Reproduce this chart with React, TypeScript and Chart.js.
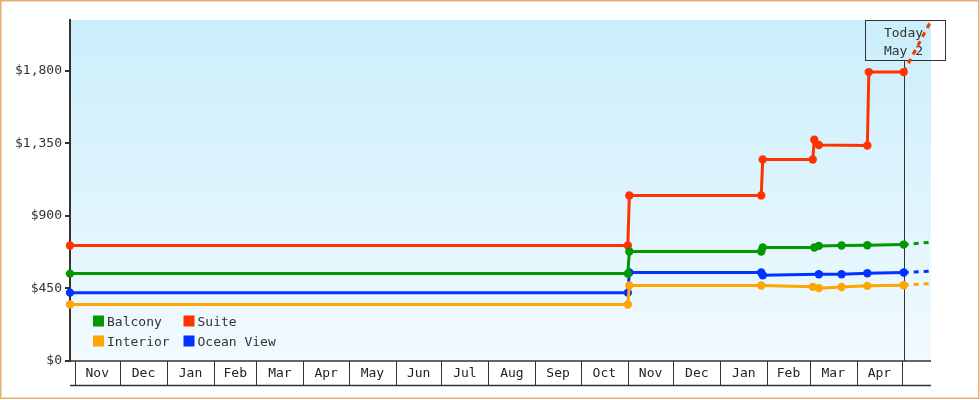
import React, { useEffect, useRef } from 'react';
import { Chart, registerables } from 'chart.js';

Chart.register(...registerables);

// ---- data ----
const dates = [
  '2008-10-29', '2009-11-01', '2009-11-02', '2010-01-28', '2010-01-29',
  '2010-03-03', '2010-03-04', '2010-03-07', '2010-03-22', '2010-04-08',
  '2010-04-09', '2010-05-02', '2010-05-20',
];
const balcony = [542, 542, 679, 679, 704, null, 704, 714, 716, 718, null, 722, 737];
const suite = [716, 716, 1027, 1027, 1250, 1250, 1372, 1340, null, 1337, 1792, 1792, 2110];
const interior = [350, 350, 468, 468, null, 460, null, 452, 459, 466, null, 470, 481];
const oceanView = [424, 424, 549, 549, 532, null, null, 538, 538, 544, null, 549, 557];

const seriesNames = ['Balcony', 'Suite', 'Interior', 'Ocean View'];
const seriesColors = ['#009900', '#ff3300', '#ffa500', '#0033ff'];

const yTicks = [0, 450, 900, 1350, 1800];
const yMax = 2115;

const monthStarts = [
  '2008-11-01', '2008-12-01', '2009-01-01', '2009-02-01', '2009-03-01', '2009-04-01',
  '2009-05-01', '2009-06-01', '2009-07-01', '2009-08-01', '2009-09-01', '2009-10-01',
  '2009-11-01', '2009-12-01', '2010-01-01', '2010-02-01', '2010-03-01', '2010-04-01',
  '2010-05-01', '2010-06-01',
];
const monthLabels = [
  'Nov', 'Dec', 'Jan', 'Feb', 'Mar', 'Apr', 'May', 'Jun', 'Jul', 'Aug', 'Sep', 'Oct',
  'Nov', 'Dec', 'Jan', 'Feb', 'Mar', 'Apr', 'May',
];
const todayDate = '2010-05-02';
const todayLabel = ['Today', 'May 2'];

// ---- helpers ----
const EPOCH = Date.UTC(2008, 10, 1);
const dayIdx = (s: string) => {
  const [y, m, d] = s.split('-').map(Number);
  return (Date.UTC(y, m - 1, d) - EPOCH) / 86400000;
};
const FONT = '13px "DejaVu Sans Mono", monospace';

const decor = {
  id: 'decor',
  beforeDraw(chart: any) {
    const { ctx, chartArea: a } = chart;
    ctx.save();
    const g = ctx.createLinearGradient(0, a.top, 0, a.bottom);
    g.addColorStop(0, '#caeefb');
    g.addColorStop(1, '#f2faff');
    ctx.fillStyle = g;
    ctx.fillRect(a.left, a.top, a.right - a.left, a.bottom - a.top);
    ctx.restore();
  },
  beforeDatasetsDraw(chart: any) {
    const { ctx, chartArea: a } = chart;
    const xs = chart.scales.x;
    ctx.save();
    // month row
    ctx.strokeStyle = '#333';
    ctx.lineWidth = 1.5;
    ctx.beginPath();
    ctx.moveTo(a.left, a.bottom);
    ctx.lineTo(a.right, a.bottom);
    ctx.moveTo(a.left, a.bottom + 24.5);
    ctx.lineTo(a.right, a.bottom + 24.5);
    ctx.stroke();
    ctx.lineWidth = 1;
    ctx.font = FONT;
    ctx.fillStyle = '#222';
    ctx.textAlign = 'center';
    ctx.textBaseline = 'middle';
    const minD = xs.min, maxD = xs.max;
    for (let i = 0; i < monthStarts.length; i++) {
      const d0 = dayIdx(monthStarts[i]);
      if (d0 >= minD && d0 <= maxD) {
        const px = Math.round(xs.getPixelForValue(d0)) + 0.5;
        ctx.beginPath();
        ctx.moveTo(px, a.bottom);
        ctx.lineTo(px, a.bottom + 24.5);
        ctx.stroke();
      }
      if (i + 1 < monthStarts.length && i < monthLabels.length) {
        const d1 = dayIdx(monthStarts[i + 1]);
        if (d0 >= minD && d1 <= maxD) {
          const mid = (xs.getPixelForValue(d0) + xs.getPixelForValue(d1)) / 2;
          ctx.fillText(monthLabels[i], mid, a.bottom + 13);
        }
      }
    }
    // today marker
    const tx = Math.round(xs.getPixelForValue(dayIdx(todayDate))) + 0.5;
    const bw = 80, bh = 40;
    const bx = Math.round(tx - bw / 2) + 0.5;
    const by = a.top + 0.5;
    ctx.strokeStyle = '#333';
    ctx.lineWidth = 1;
    ctx.strokeRect(bx, by, bw, bh);
    ctx.beginPath();
    ctx.moveTo(tx, by + bh);
    ctx.lineTo(tx, a.bottom);
    ctx.stroke();
    ctx.fillStyle = '#333';
    ctx.textBaseline = 'alphabetic';
    ctx.fillText(todayLabel[0], tx - 1, a.top + 16.5);
    ctx.fillText(todayLabel[1], tx - 1, a.top + 35);
    ctx.restore();
  },
  afterDraw(chart: any) {
    const { ctx } = chart;
    ctx.save();
    // legend
    ctx.font = FONT;
    ctx.textAlign = 'left';
    ctx.textBaseline = 'alphabetic';
    chart.data.datasets.forEach((ds: any, i: number) => {
      const col = i % 2, row = Math.floor(i / 2);
      const x = 93 + col * 90.5;
      const y = 315.5 + row * 20;
      ctx.fillStyle = ds.borderColor;
      ctx.fillRect(x, y, 11, 11);
      ctx.fillStyle = '#333';
      ctx.fillText(ds.label, x + 14, y + 10.3);
    });
    // outer border
    ctx.strokeStyle = '#e8ad72';
    ctx.lineWidth = 1.5;
    ctx.strokeRect(0.75, 0.75, 978, 397.5);
    ctx.restore();
  },
};

export default function App() {
  const ref = useRef<HTMLCanvasElement | null>(null);
  useEffect(() => {
    if (!ref.current) return;
    const xVals = dates.map(dayIdx);
    const last = dates.length - 1;
    const all = [balcony, suite, interior, oceanView];
    const chart = new Chart(ref.current, {
      type: 'line',
      data: {
        datasets: all.map((vals, i) => ({
          label: seriesNames[i],
          data: vals.map((v, j) => ({ x: xVals[j], y: v })),
          borderColor: seriesColors[i],
          backgroundColor: seriesColors[i],
          borderWidth: 3,
          pointRadius: (c: any) => (c.dataIndex === last ? 0 : 4.2),
          pointBorderWidth: 0,
          pointHoverRadius: 4.2,
          spanGaps: true,
          tension: 0,
          fill: false,
          clip: { left: 6, top: 0, right: 0, bottom: 0 },
          segment: {
            borderDash: (c: any) => (c.p1DataIndex === last ? [5, 5] : undefined),
          },
        })),
      },
      options: {
        responsive: false,
        animation: false,
        events: [],
        layout: { padding: { top: 20, right: 49, bottom: 39, left: 0 } },
        plugins: { legend: { display: false }, tooltip: { enabled: false } },
        scales: {
          x: {
            type: 'linear',
            display: false,
            min: dayIdx(dates[0]),
            max: dayIdx(dates[last]),
          },
          y: {
            min: 0,
            max: yMax,
            afterFit: (s: any) => { s.width = 70; },
            afterBuildTicks: (s: any) => { s.ticks = yTicks.map((v) => ({ value: v })); },
            grid: { drawOnChartArea: false, drawTicks: true, tickLength: 5, color: '#333', lineWidth: 2 },
            border: { display: true, color: '#333', width: 2 },
            ticks: {
              padding: 3,
              color: '#333',
              font: { family: '"DejaVu Sans Mono", monospace', size: 13 },
              callback: (v: any) => '$' + Number(v).toLocaleString('en-US'),
            },
          },
        },
      },
      plugins: [decor],
    } as any);
    return () => chart.destroy();
  }, []);
  return (
    <div style={{ position: 'absolute', left: 0, top: 0, width: 980, height: 400, background: '#fff' }}>
      <canvas ref={ref} width={980} height={400} style={{ display: 'block' }} />
    </div>
  );
}
